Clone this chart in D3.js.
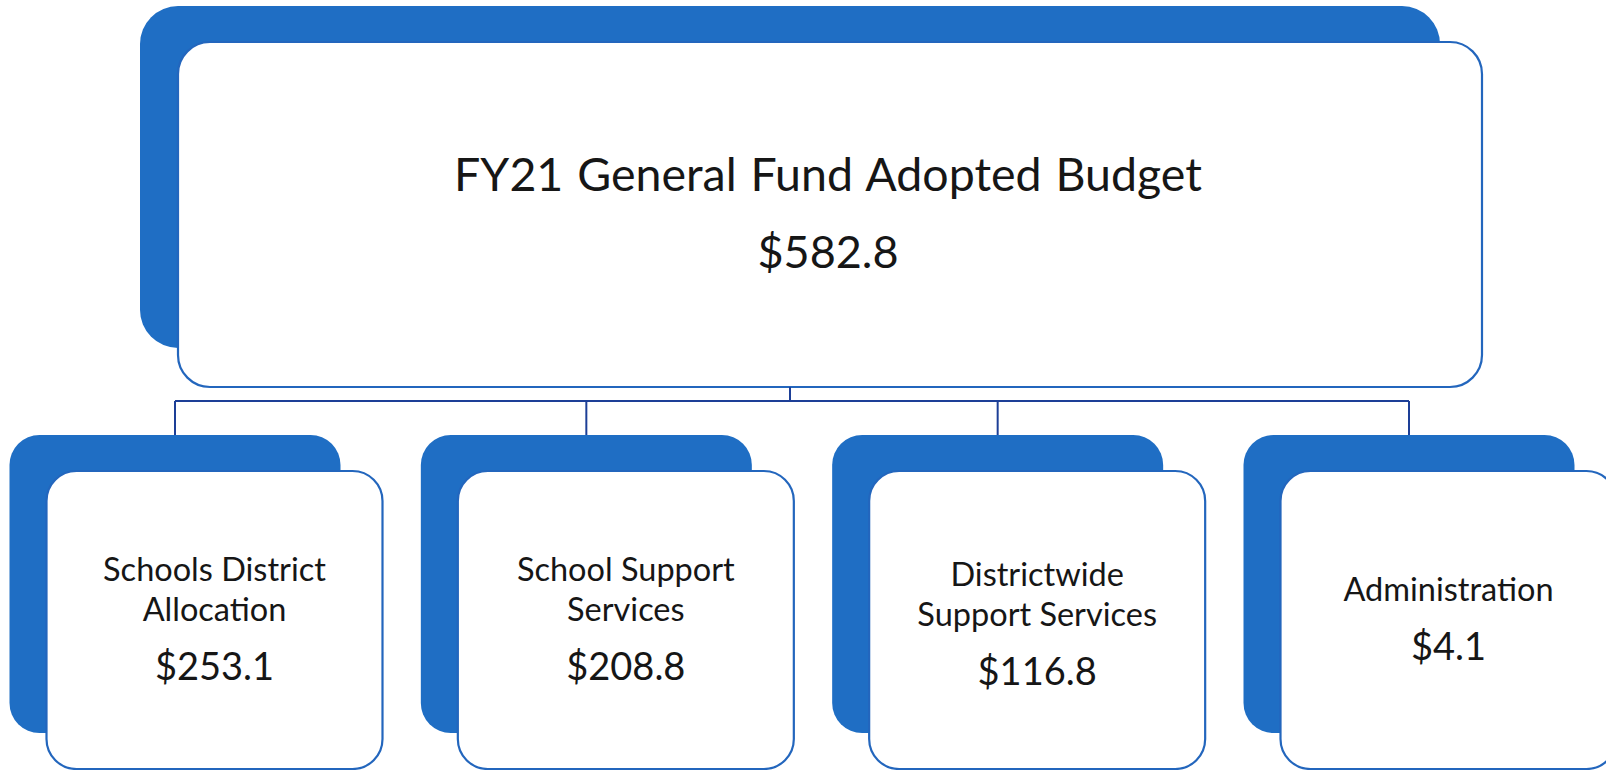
<!DOCTYPE html>
<html>
<head>
<meta charset="utf-8">
<script src="https://cdn.jsdelivr.net/npm/d3@7"></script>
<style>
  html, body { margin: 0; padding: 0; background: #ffffff; }
  svg { display: block; }
  text { font-family: Lato, "Open Sans", sans-serif; fill: #161616; }
</style>
</head>
<body>
<script>
// ---- Data ----
const rootLabel = ["FY21 General Fund Adopted Budget"];
const rootValue = 582.8;
const categories = ["Schools District Allocation", "School Support Services", "Districtwide Support Services", "Administration"];
const categoryLines = [["Schools District", "Allocation"], ["School Support", "Services"], ["Districtwide", "Support Services"], ["Administration"]];
const values = [253.1, 208.8, 116.8, 4.1];

// ---- Layout ----
const W = 1606, H = 770;
const blue = "#1f6ec4";
const edge = "#2366bd";
const navy = "#1d3f97";

const svg = d3.select("body").append("svg").attr("width", W).attr("height", H);
svg.append("rect").attr("width", W).attr("height", H).attr("fill", "#ffffff");

const fmt = v => "$" + d3.format(".1f")(v);

// child positions via point scale (centres of the back boxes)
const x = d3.scalePoint().domain(categories).range([175, 1409]);
const backW = 331, backH = 298, childTop = 435;
const off = { x: 37, y: 36 };
const frontW = 336, frontH = 298;

// root box
const root = { bx: 140, by: 6, bw: 1300, bh: 342, fx: 178, fy: 42, fw: 1304, fh: 345 };
svg.append("rect").attr("x", root.bx).attr("y", root.by).attr("width", root.bw).attr("height", root.bh)
  .attr("rx", 38).attr("fill", blue);
svg.append("rect").attr("x", root.fx).attr("y", root.fy).attr("width", root.fw).attr("height", root.fh)
  .attr("rx", 32).attr("fill", "#ffffff").attr("stroke", edge).attr("stroke-width", 2.2);

const rootCx = root.fx + root.fw / 2 - 2;
svg.append("text").attr("x", rootCx).attr("y", 191).attr("text-anchor", "middle")
  .attr("font-size", 46.5).attr("word-spacing", 2).text(rootLabel[0]);
svg.append("text").attr("x", rootCx).attr("y", 268).attr("text-anchor", "middle")
  .attr("font-size", 45).text(fmt(rootValue));

// connectors
const busY = 401;
const lines = svg.append("g").attr("stroke", navy).attr("stroke-width", 2).attr("fill", "none");
lines.append("line").attr("x1", root.bx + root.bw / 2).attr("x2", root.bx + root.bw / 2)
  .attr("y1", root.fy + root.fh).attr("y2", busY);
lines.append("line").attr("x1", x(categories[0])).attr("x2", x(categories[categories.length - 1]))
  .attr("y1", busY).attr("y2", busY);
categories.forEach(c => {
  lines.append("line").attr("x1", x(c)).attr("x2", x(c)).attr("y1", busY).attr("y2", childTop);
});

// child boxes
const g = svg.selectAll("g.child").data(categories).join("g").attr("class", "child");
g.append("rect").attr("x", d => x(d) - backW / 2).attr("y", childTop)
  .attr("width", backW).attr("height", backH).attr("rx", 30).attr("fill", blue);
g.append("rect").attr("x", d => x(d) - backW / 2 + off.x).attr("y", childTop + off.y)
  .attr("width", frontW).attr("height", frontH).attr("rx", 30)
  .attr("fill", "#ffffff").attr("stroke", edge).attr("stroke-width", 2.2);

const lineGap = 40, valGap = 59, capH = 21;
g.each(function (d, i) {
  const sel = d3.select(this);
  const cx = x(d) - backW / 2 + off.x + frontW / 2;
  const cy = childTop + off.y + frontH / 2;
  const ls = categoryLines[i];
  const blockH = capH + (ls.length - 1) * lineGap + valGap;
  const top = cy - blockH / 2 + (i === 2 ? 5 : 0);
  ls.forEach((t, j) => {
    sel.append("text").attr("x", cx).attr("y", top + capH + j * lineGap)
      .attr("text-anchor", "middle").attr("font-size", 32.5).text(t);
  });
  sel.append("text").attr("x", cx).attr("y", top + capH + (ls.length - 1) * lineGap + valGap)
    .attr("text-anchor", "middle").attr("font-size", 38).text(fmt(values[i]));
});
</script>
</body>
</html>
